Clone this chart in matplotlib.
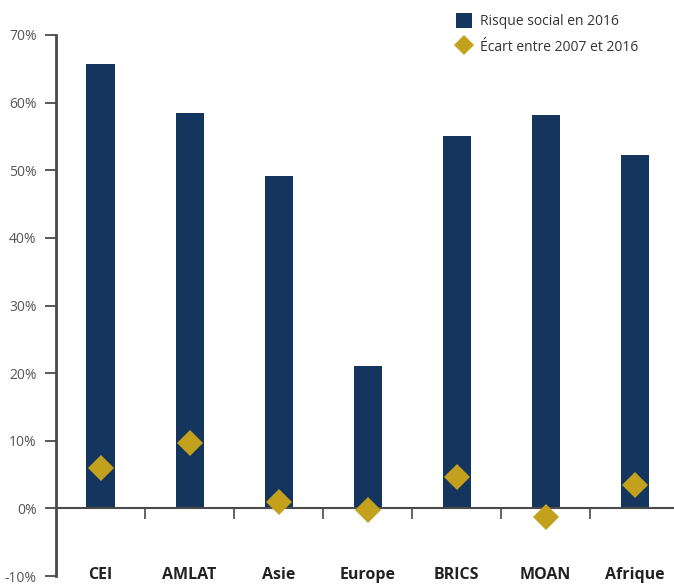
import numpy as np
import matplotlib.pyplot as plt
import matplotlib.transforms as mtransforms
from matplotlib.lines import Line2D
from matplotlib.patches import Patch

plt.rcParams['font.family'] = ['Open Sans', 'DejaVu Sans']

# Data
regions = ['CEI', 'AMLAT', 'Asie', 'Europe', 'BRICS', 'MOAN', 'Afrique']
risk_2016 = [65.7, 58.5, 49.2, 21.1, 55.1, 58.2, 52.3]
gap_2007_2016 = [5.9, 9.6, 0.9, -0.3, 4.6, -1.3, 3.4]
yticks = [-10, 0, 10, 20, 30, 40, 50, 60, 70]

navy = '#13355e'
gold = '#c4a11c'
grey = '#4a4a4a'

fig = plt.figure(figsize=(6.74, 5.85), dpi=100)
ax = fig.add_axes([56 / 674, 9 / 585, (674 - 56) / 674, 541 / 585])

x = np.arange(len(regions))
ax.bar(x, risk_2016, width=0.315, color=navy, zorder=2)
ax.plot(x, gap_2007_2016, linestyle='none', marker='D', markersize=13.5,
        color=gold, markeredgewidth=0, zorder=4)

ax.set_xlim(-0.5, 6.44)
ax.set_ylim(-10, 70)

# y axis
ax.set_yticks(yticks)
ax.set_yticklabels([f'{v}%' for v in yticks])
ax.tick_params(axis='y', length=8, width=1.3, color=grey, pad=6,
               labelsize=10, labelcolor='#555555')

# zero line with separators between groups
ax.spines['bottom'].set_position(('data', 0))
ax.spines['bottom'].set_color(grey)
ax.spines['bottom'].set_linewidth(1.5)
ax.spines['bottom'].set_zorder(3)
ax.spines['left'].set_color(grey)
ax.spines['left'].set_linewidth(2)
ax.spines['top'].set_visible(False)
ax.spines['right'].set_visible(False)
ax.set_xticks([])
ax.set_xticks(x[:-1] + 0.5, minor=True)
ax.tick_params(axis='x', which='minor', length=8, width=1.2, color=grey,
               direction='out')

# category labels along the bottom
trans = mtransforms.blended_transform_factory(ax.transData, ax.transAxes)
for xi, name in zip(x, regions):
    ax.text(xi, 0.002, name, transform=trans, ha='center', va='center',
            fontsize=11.5, fontweight='bold', color='#222222')

handles = [
    Patch(facecolor=navy, edgecolor='none', label='Risque social en 2016'),
    Line2D([], [], linestyle='none', marker='D', markersize=10, color=gold,
           markeredgewidth=0, label='Écart entre 2007 et 2016'),
]
fig.legend(handles=handles, loc='upper left', bbox_to_anchor=(443 / 674, 1 - 1 / 585),
           frameon=False, fontsize=10, handlelength=1.2, handleheight=1.2,
           handletextpad=0.6, labelspacing=0.7, labelcolor='#333333')

fig.savefig('out.png', dpi=100)
